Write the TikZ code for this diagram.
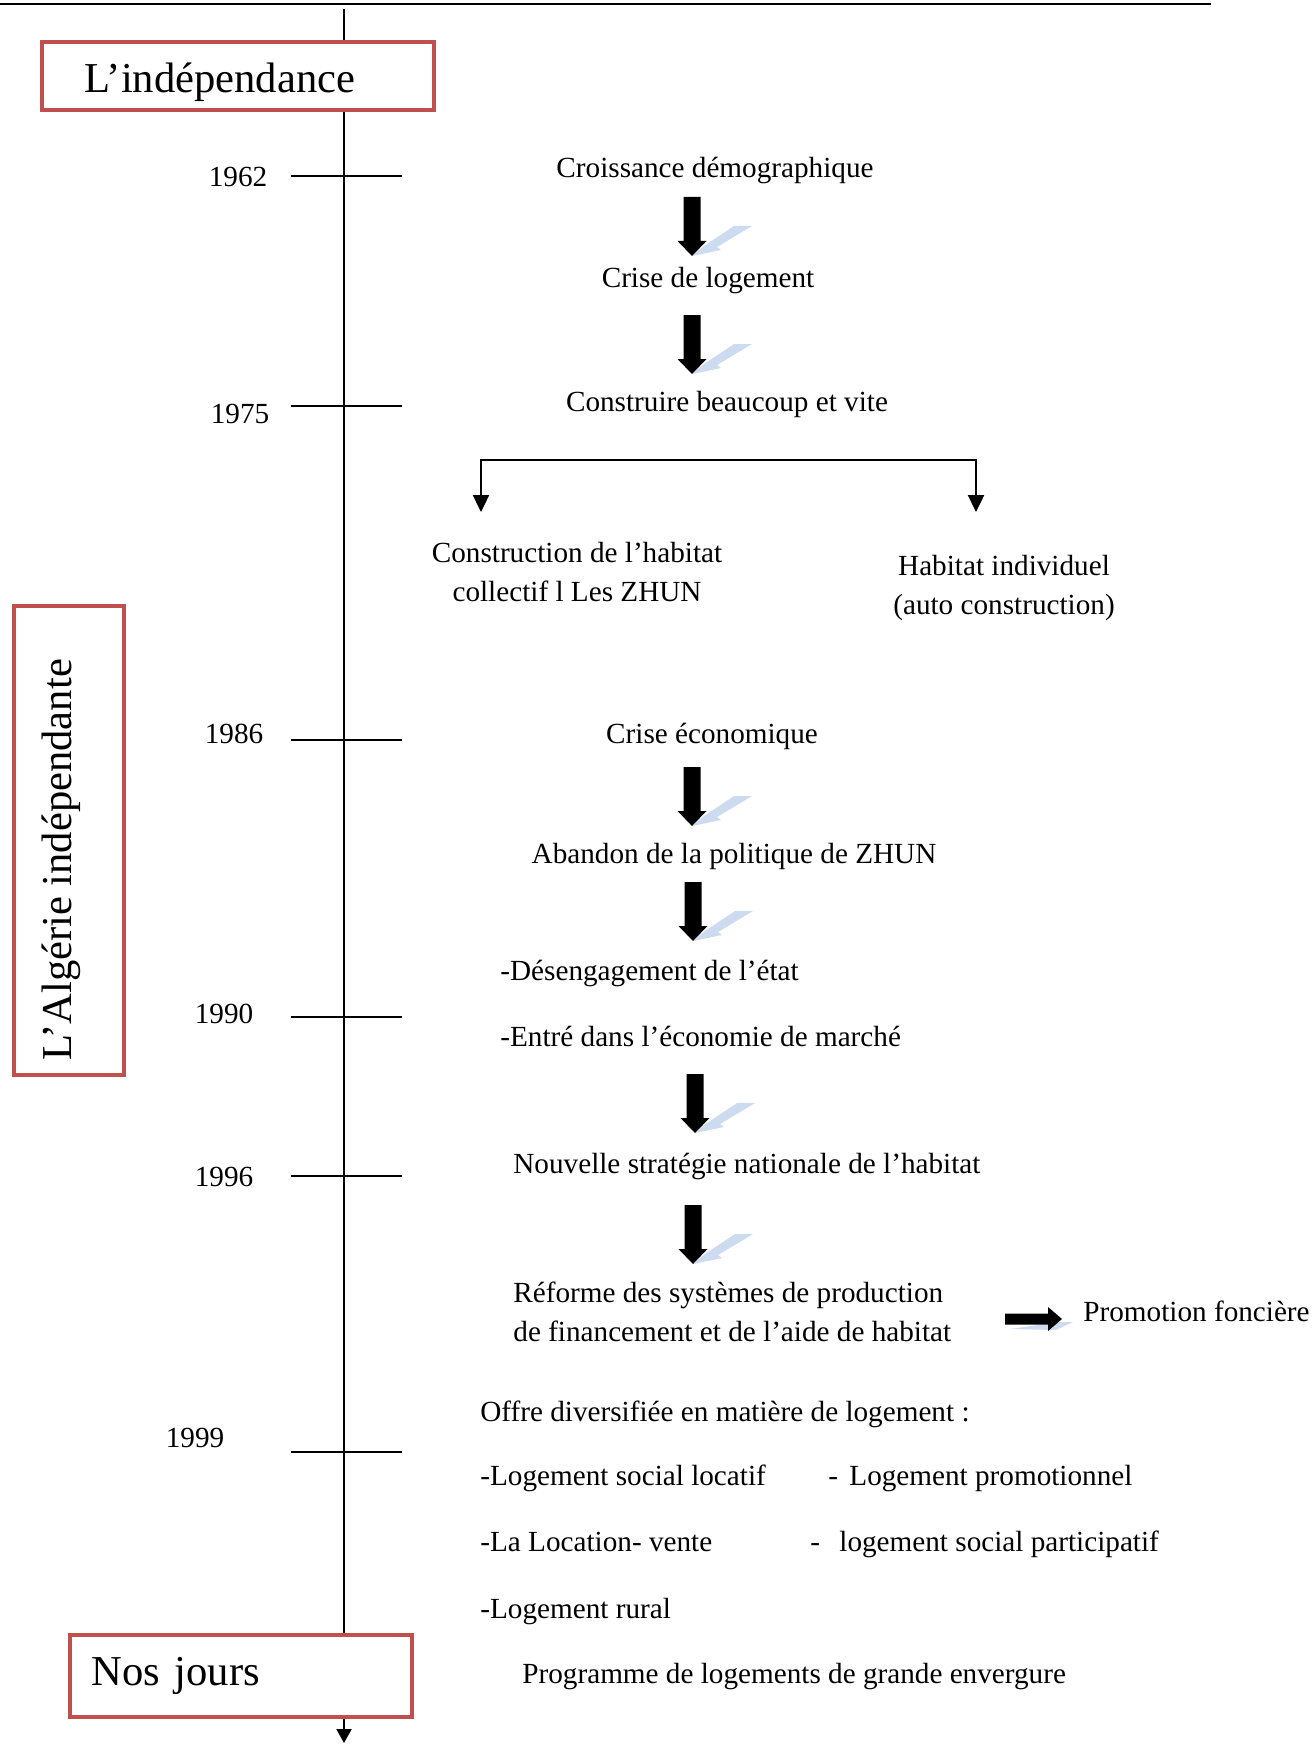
\documentclass[tikz,border=0pt]{standalone}
\usepackage{fontspec}
\setmainfont{Liberation Serif}
\usetikzlibrary{arrows.meta}
\definecolor{boxred}{RGB}{192,80,77}
\definecolor{shadowblue}{RGB}{204,219,240}
\newcommand{\bodyfont}{\fontsize{14.6pt}{19.5pt}\selectfont}
\newcommand{\bigfont}{\fontsize{21.3pt}{25pt}\selectfont}
\tikzset{
  txt/.style={font=\bodyfont, inner sep=0pt, text height=13.65pt, text depth=5.85pt, yshift=-1.25pt},
  multi/.style={font=\bodyfont, inner sep=0pt, yshift=-1.25pt},
  tickline/.style={line width=1pt},
  redbox/.style={draw=boxred, line width=1.75pt, fill=white, inner sep=0pt},
  bigtxt/.style={font=\bigfont, inner sep=0pt},
  downarr/.pic={
    \fill[shadowblue] (0,0) -- (12,-10) -- (42,-30) -- (60,-30) -- (25,-9) -- (29,-6) -- cycle;
    \fill[black] (-8.5,-59) -- (8.5,-59) -- (8.5,-15) -- (14.5,-15) -- (0,0) -- (-14.5,-15) -- (-8.5,-15) -- cycle;
  },
  rightarr/.pic={
    \fill[shadowblue] (-52,10) -- (-6,11) -- (11,3) -- (-2,3) -- cycle;
    \fill[black] (-57,-5.5) -- (-14,-5.5) -- (-14,-12) -- (0,0) -- (-14,12) -- (-14,5.5) -- (-57,5.5) -- cycle;
  },
}
\begin{document}
\begin{tikzpicture}[x=0.5pt,y=-0.5pt]
\useasboundingbox (0,0) rectangle (1313,1744);
% top rule
\coordinate (ruleL) at (0,4);
\coordinate (ruleR) at (1211,4);
\draw[line width=1.25pt] (ruleL) -- (ruleR);
% timeline
\coordinate (tlTop) at (344,9);
\coordinate (tlEnd) at (344,1743);
\draw[line width=1pt, -{Triangle[length=7pt,width=7.5pt]}] (tlTop) -- (tlEnd);
% boxes
\node[redbox, anchor=west, minimum height=34pt, text width=153pt, inner xsep=21.5pt, align=left, font=\bigfont, text height=18pt, text depth=1.6pt] (indep) at (40,76) {L’indépendance};
\node[redbox, anchor=west, minimum height=41pt, text width=149pt, inner xsep=11pt, align=left, font=\bigfont] (nos) at (68,1676) {Nos jours};
\node[redbox, minimum width=55pt, minimum height=234.5pt] (algBox) at (69,840.5) {};
\node[bigtxt, rotate=90, text height=14.5pt, text depth=4.7pt] (algT) at (62,860) {L’Algérie indépendante};
% ticks and years
\foreach \yr/\yy/\lx/\ly in {1962/176/238/176, 1975/406/240/413, 1986/740/234/733, 1990/1017/224/1013, 1996/1176/224/1176, 1999/1452/195/1437}{
  \coordinate (t\yr L) at (291,\yy);
  \coordinate (t\yr R) at (402,\yy);
  \draw[tickline] (t\yr L) -- (t\yr R);
  \node[txt] (y\yr) at (\lx,\ly) {\yr};
}
% chain
\node[txt] (croiss) at (715,167) {Croissance démographique};
\pic at (692,256) {downarr};
\node[txt] (crise) at (708,277) {Crise de logement};
\pic at (692,374) {downarr};
\node[txt] (constr) at (727,401) {Construire beaucoup et vite};
% branch
\coordinate (brL) at (481,460);
\coordinate (brR) at (976,460);
\coordinate (brLtip) at (481,512);
\coordinate (brRtip) at (976,512);
\draw[line width=1.2pt, {Triangle[length=8.5pt,width=8pt]}-{Triangle[length=8.5pt,width=8pt]}] (brLtip) -- (brL) -- (brR) -- (brRtip);
\node[multi, align=center] (coll) at (577,572) {\strut Construction de l’habitat\\\strut collectif l Les ZHUN};
\node[multi, align=center] (hab) at (1004,585) {\strut Habitat individuel\\\strut (auto construction)};
\node[txt] (ecocrise) at (712,733) {Crise économique};
\pic at (692,826) {downarr};
\node[txt] (aband) at (734,853) {Abandon de la politique de ZHUN};
\pic at (693,941) {downarr};
\node[txt, anchor=west] (deseng) at (500,970) {-Désengagement de l’état};
\node[txt, anchor=west] (entre) at (500,1036) {-Entré dans l’économie de marché};
\pic at (695,1133) {downarr};
\node[txt, anchor=west] (nouv) at (513,1163) {Nouvelle stratégie nationale de l’habitat};
\pic at (693,1264) {downarr};
\node[multi, align=left, anchor=west] (reforme) at (513,1312) {\strut Réforme des systèmes de production\\\strut de financement et de l’aide de habitat};
\pic at (1062,1319) {rightarr};
\node[txt, anchor=west] (promo) at (1083,1311) {Promotion foncière};
\node[txt, anchor=west] (offre) at (480,1411) {Offre diversifiée en matière de logement :};
\node[txt, anchor=west] (lsl) at (480,1475) {-Logement social locatif};
\node[txt, anchor=west] (lpd) at (828,1475) {-};
\node[txt, anchor=west] (lp) at (849,1475) {Logement promotionnel};
\node[txt, anchor=west] (lvd) at (480,1541) {-La Location- vente};
\node[txt, anchor=west] (lspd) at (810,1541) {-};
\node[txt, anchor=west] (lsp) at (839,1541) {logement social participatif};
\node[txt, anchor=west] (lr) at (480,1608) {-Logement rural};
\node[txt, anchor=west] (prog) at (522,1673) {Programme de logements de grande envergure};
\end{tikzpicture}
\end{document}
